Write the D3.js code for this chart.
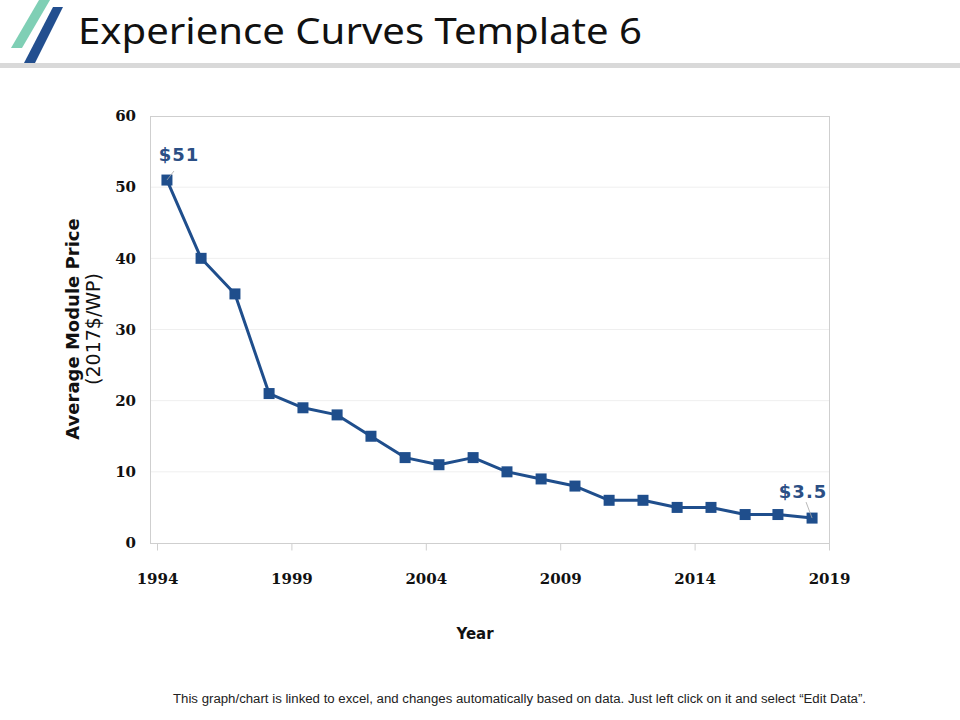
<!DOCTYPE html>
<html>
<head>
<meta charset="utf-8">
<script src="https://cdn.jsdelivr.net/npm/d3@7"></script>
<style>
  html, body { margin: 0; padding: 0; background: #fff; }
  svg { display: block; }
</style>
</head>
<body>
<div id="chart"></div>
<script>
// Data
const years = [1994.37, 1995.64, 1996.90, 1998.17, 1999.43, 2000.70, 2001.96, 2003.23,
  2004.49, 2005.76, 2007.02, 2008.29, 2009.55, 2010.82, 2012.08, 2013.35,
  2014.61, 2015.88, 2017.10, 2018.37];
const prices = [51, 40, 35, 21, 19, 18, 15, 12, 11, 12, 10, 9, 8, 6, 6, 5, 5, 4, 4, 3.5];
const xTicks = [1994, 1999, 2004, 2009, 2014, 2019];
const yTicks = [0, 10, 20, 30, 40, 50, 60];
const labelled = [0, prices.length - 1]; // first and last points carry a "$" label

const W = 960, H = 720;
const PLOT = { left: 150, right: 829, top: 116, bottom: 543 };
const BLUE = '#1f4e8c';
const LABEL_BLUE = '#2b4f85';
const SANS = '"DejaVu Sans", Verdana, sans-serif';
const SERIF = '"DejaVu Serif", Cambria, serif';

const svg = d3.select('#chart').append('svg')
  .attr('width', W).attr('height', H)
  .attr('viewBox', `0 0 ${W} ${H}`);

svg.append('rect').attr('width', W).attr('height', H).attr('fill', '#fff');

// Header: logo stripes, title, gray rule
svg.append('polygon')
  .attr('points', '39,0 50,0 22,48 11,48')
  .attr('fill', '#7fcfb5');
svg.append('polygon')
  .attr('points', '53,7 63,7 35,63 24,63')
  .attr('fill', '#234f8f');
svg.append('text')
  .attr('x', 78).attr('y', 44)
  .attr('font-family', '"Noto Sans", "Open Sans", sans-serif')
  .attr('font-size', 36)
  .attr('fill', '#111')
  .attr('textLength', 564).attr('lengthAdjust', 'spacingAndGlyphs')
  .text('Experience Curves Template 6');
svg.append('rect')
  .attr('x', 0).attr('y', 63).attr('width', W).attr('height', 5)
  .attr('fill', '#d9d9d9');

// Scales
const x = d3.scaleLinear().domain([1994, 2019]).range([157, PLOT.right]);
const y = d3.scaleLinear().domain([0, 60]).range([PLOT.bottom, PLOT.top]);

// Gridlines
svg.append('g')
  .selectAll('line')
  .data(yTicks.filter(d => d > 0 && d < 60))
  .join('line')
  .attr('x1', PLOT.left).attr('x2', PLOT.right)
  .attr('y1', d => y(d)).attr('y2', d => y(d))
  .attr('stroke', '#efefef').attr('stroke-width', 1);

// Plot area border
svg.append('rect')
  .attr('x', PLOT.left + 0.5).attr('y', PLOT.top + 0.5)
  .attr('width', PLOT.right - PLOT.left).attr('height', PLOT.bottom - PLOT.top)
  .attr('fill', 'none').attr('stroke', '#cfcfcf').attr('stroke-width', 1);

// Y axis labels (no line, no ticks)
const yAxis = svg.append('g')
  .attr('transform', `translate(${PLOT.left},0)`)
  .call(d3.axisLeft(y).tickValues(yTicks).tickSize(0).tickPadding(14).tickFormat(d3.format('d')));
yAxis.select('.domain').remove();
yAxis.selectAll('text')
  .attr('font-family', SERIF).attr('font-weight', 'bold')
  .attr('font-size', 15).attr('fill', '#111');

// X axis with downward tick marks
const xAxis = svg.append('g')
  .attr('transform', `translate(0,${PLOT.bottom + 0.5})`)
  .call(d3.axisBottom(x).tickValues(xTicks).tickSize(7).tickPadding(23).tickFormat(d3.format('d')));
xAxis.select('.domain').remove();
xAxis.selectAll('.tick line').attr('stroke', '#cfcfcf');
xAxis.selectAll('text')
  .attr('font-family', SERIF).attr('font-weight', 'bold')
  .attr('font-size', 15).attr('fill', '#111');

// Axis titles
svg.append('text')
  .attr('x', 475).attr('y', 639)
  .attr('text-anchor', 'middle')
  .attr('font-family', SANS).attr('font-weight', 'bold')
  .attr('font-size', 15).attr('fill', '#111')
  .text('Year');

const yTitle = svg.append('text')
  .attr('transform', 'translate(79,329) rotate(-90)')
  .attr('text-anchor', 'middle')
  .attr('font-family', SANS).attr('fill', '#111');
yTitle.append('tspan').attr('x', 0).attr('dy', 0)
  .attr('font-weight', 'bold').attr('font-size', 18).text('Average Module Price');
yTitle.append('tspan').attr('x', 0).attr('dy', 21)
  .attr('font-size', 19).text('(2017$/WP)');

// Series line + square markers
const pts = years.map((yr, i) => ({ yr, v: prices[i] }));
const line = d3.line().x(d => x(d.yr)).y(d => y(d.v));

svg.append('path')
  .datum(pts)
  .attr('d', line)
  .attr('fill', 'none')
  .attr('stroke', BLUE)
  .attr('stroke-width', 3)
  .attr('stroke-linejoin', 'round');

const M = 11;
svg.append('g')
  .selectAll('rect')
  .data(pts)
  .join('rect')
  .attr('x', d => x(d.yr) - M / 2)
  .attr('y', d => y(d.v) - M / 2)
  .attr('width', M).attr('height', M)
  .attr('fill', BLUE);

// Data labels with leader lines
const labelOffset = { 0: { dx: 12, dy: -19, lx: 7, ly: -9 }, [prices.length - 1]: { dx: -9, dy: -20, lx: -6, ly: -16 } };
labelled.forEach(i => {
  const d = pts[i];
  const o = labelOffset[i];
  const px = x(d.yr), py = y(d.v);
  svg.append('line')
    .attr('x1', px).attr('y1', py)
    .attr('x2', px + o.lx).attr('y2', py + o.ly)
    .attr('stroke', '#a6a6a6').attr('stroke-width', 0.8);
  svg.append('text')
    .attr('x', px + o.dx).attr('y', py + o.dy)
    .attr('text-anchor', 'middle')
    .attr('font-family', SANS).attr('font-weight', 'bold')
    .attr('font-size', 18).attr('letter-spacing', 1)
    .attr('fill', LABEL_BLUE)
    .text('$' + d.v);
});

// Footer note
svg.append('text')
  .attr('x', 173).attr('y', 703)
  .attr('font-family', '"Liberation Sans", Arial, sans-serif')
  .attr('font-size', 12).attr('fill', '#222')
  .attr('textLength', 693).attr('lengthAdjust', 'spacingAndGlyphs')
  .text('This graph/chart is linked to excel, and changes automatically based on data. Just left click on it and select \u201CEdit Data\u201D.');
</script>
</body>
</html>
